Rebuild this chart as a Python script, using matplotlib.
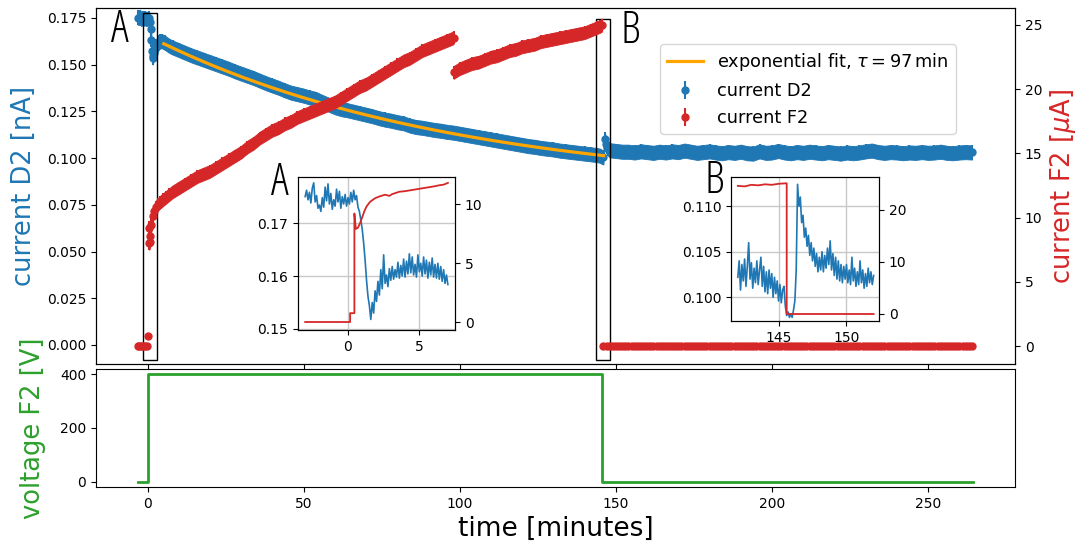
import numpy as np
import matplotlib
matplotlib.use("Agg")
import matplotlib.pyplot as plt
from matplotlib.patches import Rectangle

C_D2, C_F2, C_V, C_FIT = "#1f77b4", "#d62728", "#2ca02c", "orange"

# ---------------- main panel data (binned) ----------------
t_d2_start = [-3.2, -2.8, -2.4, -2.0, -1.6, -1.2, -0.8, -0.4, 0.0, 0.4, 0.8, 1.0, 1.2, 1.4,
              1.6, 1.8, 2.0, 2.4, 2.8, 3.2, 3.6, 4.0, 4.5, 5.0, 5.5, 6.0, 6.5, 7.0]
d2_start = [0.1752, 0.1750, 0.1756, 0.1744, 0.1750, 0.1746, 0.1748, 0.1744, 0.1746, 0.1748,
            0.1728, 0.1690, 0.1630, 0.1575, 0.1538, 0.1545, 0.1562, 0.1585, 0.1600, 0.1610,
            0.1618, 0.1624, 0.1626, 0.1622, 0.1618, 0.1612, 0.1606, 0.1600]
t_d2_mid = np.arange(8, 145, 2)
d2_mid = [0.1592, 0.1578, 0.1564, 0.1550, 0.1538, 0.1526, 0.1514, 0.1502, 0.1490, 0.1478,
          0.1464, 0.1452, 0.1440, 0.1428, 0.1414, 0.1400, 0.1388, 0.1376, 0.1362, 0.1350,
          0.1342, 0.1334, 0.1324, 0.1316, 0.1300, 0.1286, 0.1272, 0.1262, 0.1256, 0.1248,
          0.1240, 0.1232, 0.1224, 0.1214, 0.1206, 0.1200, 0.1192, 0.1186, 0.1174, 0.1166,
          0.1162, 0.1156, 0.1150, 0.1146, 0.1140, 0.1136, 0.1130, 0.1124, 0.1118, 0.1112,
          0.1106, 0.1100, 0.1094, 0.1088, 0.1082, 0.1076, 0.1070, 0.1064, 0.1060, 0.1054,
          0.1050, 0.1046, 0.1040, 0.1036, 0.1032, 0.1028, 0.1024, 0.1020, 0.1016]
t_d2_jump = [145.0, 145.5, 146.0, 146.4, 146.8, 147.2, 147.6, 148.0, 149.0]
d2_jump = [0.1012, 0.1006, 0.1004, 0.1100, 0.1078, 0.1060, 0.1048, 0.1042, 0.1040]
t_d2_late = np.arange(150, 265, 2)
d2_late = [0.1038, 0.1034, 0.1034, 0.1030, 0.1036, 0.1032, 0.1028, 0.1034, 0.1030, 0.1036,
           0.1032, 0.1040, 0.1034, 0.1028, 0.1032, 0.1036, 0.1030, 0.1026, 0.1032, 0.1028,
           0.1034, 0.1026, 0.1024, 0.1036, 0.1028, 0.1030, 0.1038, 0.1030, 0.1026, 0.1032,
           0.1028, 0.1034, 0.1030, 0.1026, 0.1032, 0.1028, 0.1024, 0.1030, 0.1026, 0.1030,
           0.1036, 0.1040, 0.1032, 0.1028, 0.1032, 0.1030, 0.1026, 0.1030, 0.1028, 0.1032,
           0.1028, 0.1030, 0.1034, 0.1028, 0.1026, 0.1030, 0.1032, 0.1030]
d2_err = 0.0038          # nA, spread of the binned D2 current

t_f2_start = [-3.2, -2.6, -2.0, -1.4, -0.8, -0.2, 0.2, 0.45, 0.55, 0.7, 0.9, 1.2, 1.6, 2.0,
              2.6, 3.2, 4.0, 5.0, 6.0, 7.0]
f2_start = [0, 0, 0, 0, 0, 0, 0.75, 9.2, 8.0, 8.1, 8.6, 9.4, 10.1, 10.5, 10.8, 11.0, 11.2,
            11.4, 11.6, 11.8]
t_f2_mid_a = np.arange(8, 99, 2)
f2_mid_a = [12.0, 12.3, 12.6, 12.9, 13.2, 13.4, 13.6, 13.9, 14.2, 14.5, 14.8, 15.1, 15.5,
            15.8, 16.2, 16.5, 16.8, 17.0, 17.3, 17.5, 17.8, 18.0, 18.2, 18.4, 18.6, 18.8,
            19.0, 19.3, 19.6, 19.9, 20.2, 20.4, 20.7, 21.0, 21.3, 21.6, 21.9, 22.2, 22.4,
            22.7, 23.0, 23.2, 23.4, 23.6, 23.8, 24.0]
t_f2_mid_b = np.arange(98, 145, 2)
f2_mid_b = [21.3, 21.6, 21.8, 22.0, 22.1, 22.3, 22.5, 22.6, 22.8, 23.0, 23.1, 23.3, 23.4,
            23.5, 23.7, 23.8, 23.9, 24.0, 24.1, 24.2, 24.3, 24.4, 24.6, 24.8]
t_f2_end = [145.0, 145.6]
f2_end = [24.9, 25.0]
t_f2_off = np.arange(146, 265, 1)
f2_off = np.zeros(len(t_f2_off))
f2_err = 0.5             # uA, spread of F2 current while voltage is on

# exponential fit parameters
tau_fit = 97.0
amp_fit = 0.0825
off_fit = 0.0830
t_fit_range = (5.2, 146.1)

# voltage on F2
t_volt = [-3.2, 0.2, 0.2, 145.6, 145.6, 264.3]
volt = [0, 0, 400, 400, 0, 0]

# ---------------- inset A (raw) ----------------
t_A = np.round(np.linspace(-3.0, 7.0, 101), 2)
d2_A = [0.1750, 0.1762, 0.1744, 0.1758, 0.1738, 0.1766, 0.1776, 0.1740, 0.1752, 0.1728,
        0.1734, 0.1722, 0.1748, 0.1730, 0.1768, 0.1742, 0.1774, 0.1736, 0.1756, 0.1726,
        0.1744, 0.1732, 0.1764, 0.1740, 0.1760, 0.1728, 0.1750, 0.1736, 0.1754, 0.1732,
        0.1748, 0.1736, 0.1758, 0.1740, 0.1762, 0.1744, 0.1752, 0.1730, 0.1722, 0.1706,
        0.1688, 0.1662, 0.1630, 0.1592, 0.1562, 0.1544, 0.1518, 0.1550, 0.1530, 0.1572,
        0.1552, 0.1590, 0.1564, 0.1612, 0.1576, 0.1640, 0.1586, 0.1602, 0.1580, 0.1614,
        0.1592, 0.1618, 0.1594, 0.1612, 0.1598, 0.1626, 0.1596, 0.1620, 0.1600, 0.1632,
        0.1598, 0.1628, 0.1604, 0.1642, 0.1606, 0.1636, 0.1602, 0.1622, 0.1598, 0.1640,
        0.1608, 0.1624, 0.1600, 0.1636, 0.1604, 0.1630, 0.1596, 0.1626, 0.1602, 0.1634,
        0.1598, 0.1622, 0.1596, 0.1624, 0.1594, 0.1618, 0.1590, 0.1612, 0.1586, 0.1602,
        0.1584]
t_f2_A = [-3.0, 0.15, 0.15, 0.45, 0.45, 0.55, 0.7, 0.85, 1.0, 1.15, 1.3, 1.55, 1.9, 2.2,
          2.6, 2.9, 3.1, 3.6, 4.0, 4.5, 5.0, 5.5, 6.0, 6.4, 6.7, 7.0]
f2_A = [0, 0, 0.75, 0.75, 9.2, 7.9, 8.0, 8.4, 8.9, 9.4, 9.8, 10.2, 10.5, 10.65, 10.8, 10.7,
        10.85, 11.05, 11.1, 11.2, 11.3, 11.4, 11.5, 11.6, 11.65, 11.8]

# ---------------- inset B (raw) ----------------
t_B = np.round(np.linspace(142.0, 152.0, 101), 2)
d2_B = [0.1022, 0.1040, 0.1008, 0.1036, 0.1018, 0.1042, 0.1012, 0.1034, 0.1060, 0.1020,
        0.1038, 0.1010, 0.1032, 0.1016, 0.1040, 0.1014, 0.1030, 0.1044, 0.1012, 0.1034,
        0.1006, 0.1028, 0.1004, 0.1030, 0.1010, 0.1026, 0.1000, 0.1022, 0.1004, 0.1018,
        0.0996, 0.1014, 0.0994, 0.1008, 0.1012, 0.0990, 0.0980, 0.0984, 0.0978, 0.0982,
        0.0978, 0.0986, 0.0996, 0.1030, 0.1124, 0.1100, 0.1110, 0.1082, 0.1090, 0.1066,
        0.1076, 0.1056, 0.1068, 0.1046, 0.1060, 0.1040, 0.1054, 0.1034, 0.1048, 0.1028,
        0.1044, 0.1030, 0.1050, 0.1028, 0.1046, 0.1032, 0.1054, 0.1036, 0.1062, 0.1030,
        0.1048, 0.1024, 0.1044, 0.1020, 0.1040, 0.1018, 0.1036, 0.1016, 0.1034, 0.1020,
        0.1036, 0.1016, 0.1030, 0.1014, 0.1044, 0.1018, 0.1032, 0.1012, 0.1028, 0.1014,
        0.1040, 0.1016, 0.1030, 0.1010, 0.1026, 0.1012, 0.1032, 0.1016, 0.1028, 0.1014,
        0.1024]
t_f2_B = [142.0, 142.5, 143.0, 143.5, 144.0, 144.5, 145.0, 145.6, 145.6, 152.0]
f2_B = [24.6, 24.5, 24.8, 24.7, 24.9, 24.8, 25.0, 25.1, 0.0, 0.0]

# ---------------- assemble main series ----------------
t_d2 = np.concatenate([t_d2_start, t_d2_mid, t_d2_jump, t_d2_late])
d2 = np.concatenate([d2_start, d2_mid, d2_jump, d2_late])
t_f2 = np.concatenate([t_f2_start, t_f2_mid_a, t_f2_mid_b, t_f2_end, t_f2_off])
f2 = np.concatenate([f2_start, f2_mid_a, f2_mid_b, f2_end, f2_off])

fig = plt.figure(figsize=(10.79, 5.42), dpi=100)
ax1 = fig.add_axes([0.08897, 0.3284, 0.8517, 0.6568])
ax3 = fig.add_axes([0.08897, 0.1015, 0.8517, 0.2177], sharex=ax1)
ax2 = ax1.twinx()

# D2 current
ax1.fill_between(t_d2, d2 - d2_err, d2 + d2_err, color=C_D2, lw=0.6, zorder=1.9)
eb_d2 = ax1.errorbar(t_d2, d2, yerr=d2_err, fmt="o", ms=5, color=C_D2, zorder=2)
tf = np.linspace(t_fit_range[0], t_fit_range[1], 300)
fit_line, = ax1.plot(tf, amp_fit * np.exp(-tf / tau_fit) + off_fit, color=C_FIT, lw=2.3, zorder=3)

# F2 current
err_f2 = np.where(f2 > 1, f2_err, 0.0)
breaks = np.where(np.abs(np.diff(f2)) > 1.5)[0] + 1
for ts, ys, es in zip(np.split(t_f2, breaks), np.split(f2, breaks), np.split(err_f2, breaks)):
    if len(ts) > 1 and ys.max() > 1:
        ax2.fill_between(ts, ys - es, ys + es, color=C_F2, lw=0.6)
eb_f2 = ax2.errorbar(t_f2, f2, yerr=err_f2, fmt="o", ms=5, color=C_F2)

ax1.set_xlim(-16.5, 277.8)
ax1.set_ylim(-0.0102, 0.1803)
ax2.set_ylim(-1.40, 26.32)
ax1.tick_params(labelbottom=False, labelsize=10)
ax2.tick_params(labelsize=10)
ax1.set_ylabel("current D2 [nA]", color=C_D2, fontsize=18.5, labelpad=7)
ax2.set_ylabel(r"current F2 [$\mu$A]", color=C_F2, fontsize=18.5, labelpad=4)

# zoom rectangles
ax1.add_patch(Rectangle((-1.38, -0.008), 4.48, 0.1858, fill=False, ec="black", lw=1.0, zorder=4))
ax1.add_patch(Rectangle((143.7, -0.008), 4.3, 0.1826, fill=False, ec="black", lw=1.0, zorder=4))

ax2.legend([fit_line, eb_d2, eb_f2],
           [r"exponential fit, $\tau = 97\,\mathrm{min}$", "current D2", "current F2"],
           loc="upper right", bbox_to_anchor=(0.9358, 0.899), borderaxespad=0, fontsize=12.8)

# voltage panel
ax3.plot(t_volt, volt, color=C_V, lw=2)
ax3.set_yticks([0, 200, 400])
ax3.tick_params(labelsize=10)
ax3.set_xlabel("time [minutes]", fontsize=19)
ax3.set_ylabel("voltage F2 [V]", color=C_V, fontsize=18.5, labelpad=10)

# inset A
axA = fig.add_axes([0.2762, 0.3911, 0.1455, 0.2823])
axA.plot(t_A, d2_A, color=C_D2, lw=1.2)
axA.grid(True, color="#c8c8c8", lw=1)
axA.set_xlim(-3.5, 7.5)
axA.set_ylim(0.1498, 0.1787)
axA.set_xticks([0, 5])
axA.set_yticks([0.15, 0.16, 0.17])
axA.tick_params(labelsize=10)
axA2 = axA.twinx()
axA2.plot(t_f2_A, f2_A, color=C_F2, lw=1.3)
axA2.set_ylim(-0.68, 12.3)
axA2.set_yticks([0, 5, 10])
axA2.tick_params(labelsize=10)

# inset B
axB = fig.add_axes([0.6775, 0.4077, 0.1372, 0.2657])
axB.plot(t_B, d2_B, color=C_D2, lw=1.2)
axB.grid(True, color="#c8c8c8", lw=1)
axB.set_xlim(141.5, 152.4)
axB.set_ylim(0.0974, 0.1132)
axB.set_xticks([145, 150])
axB.set_yticks([0.100, 0.105, 0.110])
axB.tick_params(labelsize=10)
axB2 = axB.twinx()
axB2.plot(t_f2_B, f2_B, color=C_F2, lw=1.3)
axB2.set_ylim(-1.35, 26.3)
axB2.set_yticks([0, 10, 20])
axB2.tick_params(labelsize=10)

# letters marking the zoomed windows
W, H = 1079.0, 542.0
letter_kw = dict(family=["Open Sans", "DejaVu Sans"], stretch="condensed", weight="light")
for s, x, yb in [("A", 111, 42), ("B", 621, 43), ("A", 271, 195), ("B", 704, 193)]:
    fig.text(x / W, 1 - yb / H, s, fontsize=32, ha="left", va="baseline", **letter_kw)

fig.savefig("out.png", dpi=100)
